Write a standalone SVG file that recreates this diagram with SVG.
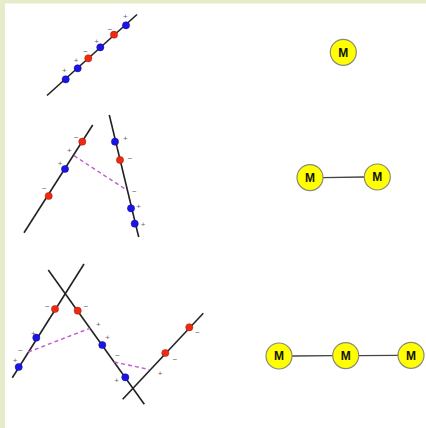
<svg xmlns="http://www.w3.org/2000/svg" width="426" height="428" viewBox="0 0 426 428">
<style>
.ln{stroke:#222;stroke-width:1.6;fill:none}
.dash{stroke:#c45bd0;stroke-width:1.4;stroke-dasharray:4 3;fill:none}
.r{fill:#f02a10;stroke:#a01a10;stroke-width:0.5}
.b{fill:#1c14e6;stroke:#100a90;stroke-width:0.5}
.s{font-family:"Liberation Sans",Arial,sans-serif;font-size:8px;fill:#666;text-anchor:middle}
.m circle{fill:#ffff00;stroke:#8a8a7a;stroke-width:1.2}
.m text{font-family:"Liberation Sans",Arial,sans-serif;font-size:12px;font-weight:bold;fill:#111;text-anchor:middle}
.e{stroke:#444;stroke-width:1.3}
</style>
<rect width="426" height="428" fill="#ffffff"/>
<rect x="0" y="0" width="426" height="3.5" fill="#e5ecc9"/>
<rect x="0" y="0" width="5" height="428" fill="#e5ecc9"/>

<g id="panel1">
<line class="ln" x1="47" y1="95.5" x2="137" y2="14.5"/>
<circle class="b" cx="65.7" cy="79.3" r="3.6"/>
<circle class="b" cx="77.7" cy="68.3" r="3.6"/>
<circle class="r" cx="88.3" cy="58.3" r="3.6"/>
<circle class="b" cx="100.3" cy="47.3" r="3.6"/>
<circle class="r" cx="114" cy="34.7" r="3.6"/>
<circle class="b" cx="126" cy="25.3" r="3.6"/>
<text class="s" x="64.3" y="73">+</text>
<text class="s" x="76" y="63">+</text>
<text class="s" x="85.7" y="54">−</text>
<text class="s" x="96.7" y="44">+</text>
<text class="s" x="110" y="31.5">−</text>
<text class="s" x="125.3" y="19">+</text>
</g>

<g id="panel2">
<line class="ln" x1="24" y1="232.7" x2="92.7" y2="125"/>
<line class="ln" x1="109.3" y1="115" x2="138.7" y2="237"/>
<line class="dash" x1="74" y1="155.7" x2="126.7" y2="190"/>
<circle class="r" cx="82.3" cy="141.7" r="3.6"/>
<circle class="b" cx="65" cy="169" r="3.6"/>
<circle class="r" cx="48.7" cy="196" r="3.6"/>
<circle class="b" cx="115" cy="141.7" r="3.6"/>
<circle class="r" cx="120" cy="160" r="3.6"/>
<circle class="b" cx="131" cy="208.3" r="3.6"/>
<circle class="b" cx="134.7" cy="223.7" r="3.6"/>
<text class="s" x="76.3" y="139.5">−</text>
<text class="s" x="69.3" y="153">+</text>
<text class="s" x="60" y="166">+</text>
<text class="s" x="44.3" y="191">−</text>
<text class="s" x="125.3" y="140.5">+</text>
<text class="s" x="130" y="160.5">−</text>
<text class="s" x="134.3" y="194">−</text>
<text class="s" x="138.7" y="209">+</text>
<text class="s" x="143" y="226.5">+</text>
</g>

<g id="panel3">
<line class="ln" x1="12.3" y1="377.7" x2="84" y2="264"/>
<line class="ln" x1="48.3" y1="270" x2="144.3" y2="404.3"/>
<line class="ln" x1="122.7" y1="399.3" x2="203.3" y2="313.3"/>
<line class="dash" x1="28.3" y1="352" x2="90" y2="328.3"/>
<line class="dash" x1="114.3" y1="362" x2="149" y2="369.5"/>
<circle class="r" cx="55" cy="309" r="3.6"/>
<circle class="b" cx="36.3" cy="337.7" r="3.6"/>
<circle class="b" cx="18.7" cy="367" r="3.6"/>
<circle class="r" cx="77.7" cy="310.7" r="3.6"/>
<circle class="b" cx="102.3" cy="345" r="3.6"/>
<circle class="b" cx="125.3" cy="377.3" r="3.6"/>
<circle class="r" cx="165.3" cy="353" r="3.6"/>
<circle class="r" cx="189.3" cy="327.3" r="3.6"/>
<text class="s" x="47.3" y="309">−</text>
<text class="s" x="86" y="309">−</text>
<text class="s" x="33.3" y="335.5">+</text>
<text class="s" x="20.7" y="352.5">−</text>
<text class="s" x="15" y="362.5">+</text>
<text class="s" x="98.3" y="326.5">+</text>
<text class="s" x="107.7" y="339.5">+</text>
<text class="s" x="117.7" y="357.5">−</text>
<text class="s" x="116.7" y="383">+</text>
<text class="s" x="175" y="361.5">−</text>
<text class="s" x="197.7" y="335">−</text>
<text class="s" x="160" y="376">+</text>
</g>

<g id="connectors">
<line class="e" x1="323" y1="177.6" x2="364.3" y2="177"/>
<line class="e" x1="292" y1="356" x2="332.7" y2="355.6"/>
<line class="e" x1="358.7" y1="355.6" x2="398" y2="355.3"/>
</g>

<g id="m1" class="m"><circle cx="343.3" cy="52.3" r="13"/><text x="343.3" y="56.6">M</text></g>
<g id="m2a" class="m"><circle cx="310" cy="177.6" r="13"/><text x="310" y="181.9">M</text></g>
<g id="m2b" class="m"><circle cx="377.3" cy="177" r="13"/><text x="377.3" y="181.3">M</text></g>
<g id="m3a" class="m"><circle cx="279" cy="356" r="13"/><text x="279" y="360.3">M</text></g>
<g id="m3b" class="m"><circle cx="345.7" cy="355.6" r="13"/><text x="345.7" y="359.9">M</text></g>
<g id="m3c" class="m"><circle cx="411" cy="355.3" r="13"/><text x="411" y="359.6">M</text></g>
</svg>
